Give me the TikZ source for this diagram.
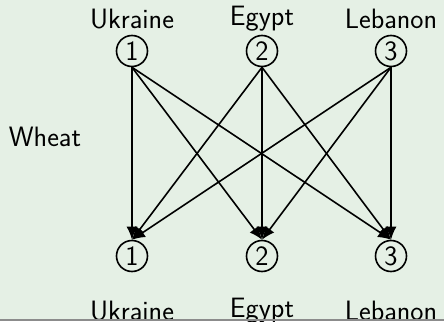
\documentclass[tikz,border=0pt]{standalone}
\usetikzlibrary{arrows.meta}
\definecolor{bgc}{HTML}{E5F0E5}
\definecolor{edgegray}{HTML}{8C8C8C}
\begin{document}
\begin{tikzpicture}[x=1pt,y=-1pt,
  font=\sffamily\fontsize{28}{32}\selectfont,
  num/.style={circle,draw,line width=1.6pt,minimum size=31pt,inner sep=0pt},
  lbl/.style={inner sep=0pt},
  edge/.style={line width=1.6pt,-{Latex[length=13pt,width=11pt]}}]
\fill[bgc] (0,0) rectangle (444,321);
\useasboundingbox (0,0) rectangle (444,321);
\node[num] (t1) at (132,51) {1};
\node[num] (t2) at (262,51) {2};
\node[num] (t3) at (391,51) {3};
\node[num] (b1) at (132,256) {1};
\node[num] (b2) at (262,256) {2};
\node[num] (b3) at (391,256) {3};
\node[lbl] (lt1) at (132,19) {Ukraine};
\node[lbl] (lt2) at (262,19) {Egypt};
\node[lbl] (lt3) at (391,19) {Lebanon};
\node[lbl] (lb1) at (132,311) {Ukraine};
\node[lbl] (lb2) at (262,311) {Egypt};
\node[lbl] (lb3) at (391,311) {Lebanon};
\node[lbl] (w) at (45,137) {Wheat};
\foreach \i in {1,2,3}{
  \foreach \j in {1,2,3}{
    \draw[edge] (t\i.south) -- (b\j.north);
  }
}
\fill[edgegray] (0,319) rectangle (444,321);
\end{tikzpicture}
\end{document}
